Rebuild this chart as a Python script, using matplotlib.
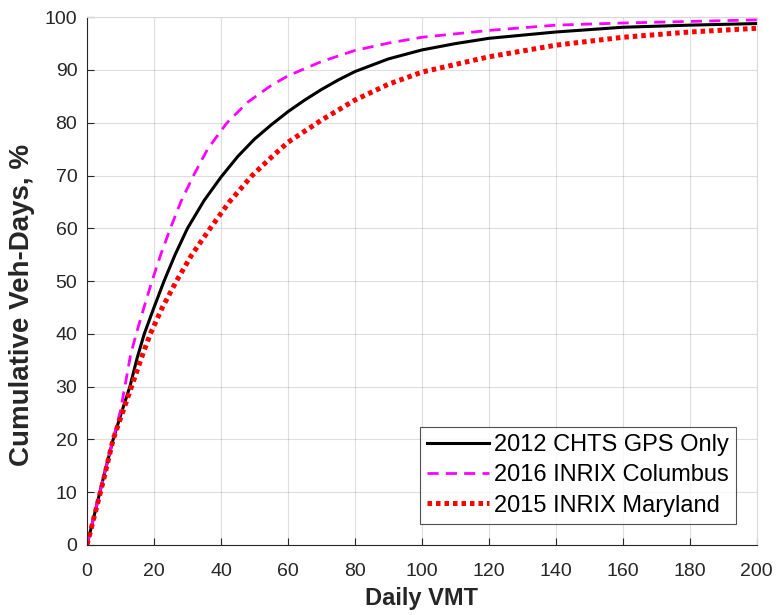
import matplotlib
matplotlib.use("Agg")
import matplotlib.pyplot as plt

plt.rcParams['font.family'] = ['Liberation Sans', 'DejaVu Sans']

# Daily VMT (x) vs cumulative share of vehicle-days (%)
chts_x = [0, 5, 7.8, 10, 12.8, 15, 17.1, 20, 23, 26.3, 30, 35, 40, 45, 50,
          55, 60, 65, 70, 75, 80, 90, 100, 110, 120, 140, 160, 180, 200]
chts_y = [0, 13, 20, 24.5, 30, 35.5, 40, 45, 50, 55, 60, 65.3, 69.7, 73.6,
          76.9, 79.6, 82.1, 84.3, 86.3, 88.1, 89.7, 92.1, 93.8, 95, 96, 97.2,
          98.1, 98.5, 98.8]

columbus_x = [0, 5, 7.8, 10, 11.3, 13, 14.7, 17, 19.4, 22, 24.9, 28, 31.8, 36,
              41.8, 48, 54.6, 60, 70, 80, 90, 100, 120, 140, 160, 180, 200]
columbus_y = [0, 13, 20, 25.5, 30, 36, 40, 45, 50, 55, 60, 65, 70, 75, 80,
              83.9, 86.9, 88.9, 91.6, 93.7, 95.1, 96.2, 97.5, 98.5, 98.9, 99.2,
              99.5]

maryland_x = [0, 5, 7.8, 10, 13.3, 16, 18.9, 22.5, 26.7, 31.3, 36.8, 42.5,
              49.3, 54.6, 60, 70, 80, 90, 100, 120, 140, 160, 180, 200]
maryland_y = [0, 12.5, 20, 24, 30, 35, 40, 45, 50, 55, 60, 65, 70, 73.2, 76.3,
              80.5, 84.3, 87.3, 89.6, 92.5, 94.7, 96.2, 97.2, 97.9]

labels = ['2012 CHTS GPS Only', '2016 INRIX Columbus', '2015 INRIX Maryland']

fig = plt.figure(figsize=(7.77, 6.15), dpi=100)
ax = fig.add_axes([0.112, 0.114, 0.862, 0.858])

ax.plot(chts_x, chts_y, color='black', lw=2.2, label=labels[0])
ax.plot(columbus_x, columbus_y, color='magenta', lw=2.0, ls=(0, (4, 2.6)),
        label=labels[1])
ax.plot(maryland_x, maryland_y, color='red', lw=3.6, ls=(0, (0.9, 0.8)),
        label=labels[2])

ax.set_xlim(0, 200)
ax.set_ylim(0, 100)
ax.set_xticks(range(0, 201, 20))
ax.set_yticks(range(0, 101, 10))
ax.grid(True, color='#262626', alpha=0.15, lw=0.8)
ax.set_axisbelow(True)

for s in ax.spines.values():
    s.set_color('#262626')
    s.set_linewidth(0.8)
for s in ['top', 'right']:
    ax.spines[s].set_color('#d9d9d9')
ax.tick_params(direction='in', colors='#262626', labelsize=14, length=5,
               width=0.8)
ax.tick_params(axis='x', pad=13)
ax.tick_params(axis='y', pad=7)

ax.set_xlabel('Daily VMT', fontsize=17, fontweight='bold', color='#262626',
              labelpad=5)
ax.set_ylabel('Cumulative Veh-Days, %', fontsize=20, fontweight='bold',
              color='#262626')
ax.yaxis.set_label_coords(-0.077, 0.455)

leg = ax.legend(loc='lower right', fontsize=17, frameon=True, fancybox=False,
                edgecolor='#262626', handlelength=2.6, borderaxespad=0.9,
                handletextpad=0.2, borderpad=0.3, labelspacing=0.35)
leg.get_frame().set_linewidth(0.8)

fig.savefig('out.png', dpi=100)
